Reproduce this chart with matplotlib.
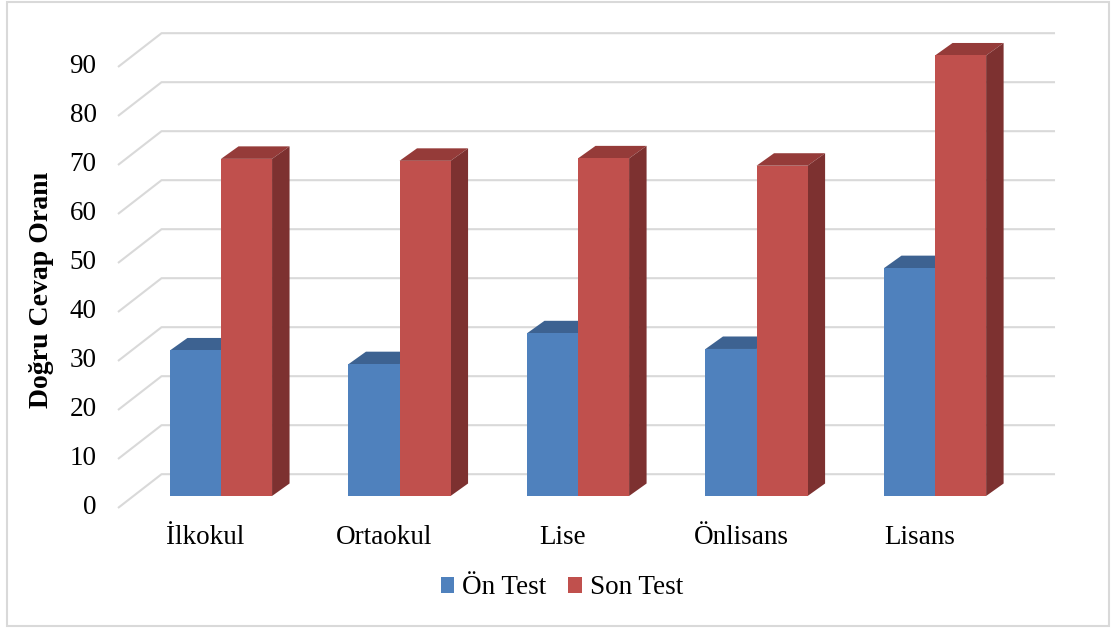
import matplotlib.pyplot as plt
from matplotlib.patches import Polygon, Rectangle, Patch

plt.rcParams['font.family'] = ['Liberation Serif', 'DejaVu Serif']

categories = ['İlkokul', 'Ortaokul', 'Lise', 'Önlisans', 'Lisans']
on_test = [29.7, 26.9, 33.2, 30.0, 46.5]
son_test = [68.8, 68.4, 68.9, 67.4, 89.9]
y_ticks = [0, 10, 20, 30, 40, 50, 60, 70, 80, 90]
series_names = ['Ön Test', 'Son Test']

blue = {'front': '#4f81bd', 'top': '#3d6291', 'side': '#345478'}
red = {'front': '#c0504d', 'top': '#953b39', 'side': '#7d3130'}

bar_w = 0.286
depth = (0.098, 2.55)        # bar depth (x, y) in data units
front = (-0.087, -2.45)      # front plane relative to bar plane
back = (0.157, 4.45)         # back wall relative to bar plane
wall_left, wall_right = -0.49, 4.515

fig = plt.figure(figsize=(11.15, 6.3), dpi=100)
ax = fig.add_axes([0, 0, 1, 1])
ax.set_xlim(-1.238, 5.008)
ax.set_ylim(-27.35, 101.22)
ax.axis('off')

# floor/back wall gridlines
for v in y_ticks:
    xs = [wall_left + front[0], wall_left + back[0], wall_right + back[0]]
    ys = [v + front[1], v + back[1], v + back[1]]
    ax.plot(xs, ys, color='#d9d9d9', lw=1.5, zorder=1, solid_capstyle='butt')
    ax.text(wall_left + front[0] - 0.12, v + front[1], str(v), ha='right', va='center',
            fontsize=19.5, zorder=3)


def bar3d(x0, h, col, z):
    dx, dy = depth
    x1 = x0 + bar_w
    top = [(x0, h), (x1, h), (x1 + dx, h + dy), (x0 + dx, h + dy)]
    side = [(x1, 0), (x1 + dx, dy), (x1 + dx, h + dy), (x1, h)]
    ax.add_patch(Polygon(top, closed=True, fc=col['top'], ec='none', zorder=z))
    ax.add_patch(Polygon(side, closed=True, fc=col['side'], ec='none', zorder=z))
    ax.add_patch(Rectangle((x0, 0), bar_w, h, fc=col['front'], ec='none', zorder=z + 0.5))


for i, cat in enumerate(categories):
    bar3d(i - bar_w, on_test[i], blue, 2 + i)
    bar3d(i, son_test[i], red, 2.2 + i)
    ax.text(i + front[0], -8.4, cat, ha='center', va='center', fontsize=19.5)

ax.text(-1.003, 42.0, 'Doğru Cevap Oranı', rotation=90, ha='center', va='center',
        fontsize=20, fontweight='bold')

handles = [Patch(fc=blue['front'], ec='none'), Patch(fc=red['front'], ec='none')]
fig.legend(handles, series_names, loc='center', bbox_to_anchor=(562 / 1115, 1 - 588 / 630),
           ncol=2, frameon=False, fontsize=19.5, handlelength=0.5, handleheight=0.5,
           handletextpad=0.3, columnspacing=0.8)

# chart area border
fig.patches.append(Rectangle((7 / 1115, 4 / 630), 1102 / 1115, 624 / 630,
                             transform=fig.transFigure, fill=False, ec='#d9d9d9', lw=1.5))

fig.savefig('out.png', dpi=100)
